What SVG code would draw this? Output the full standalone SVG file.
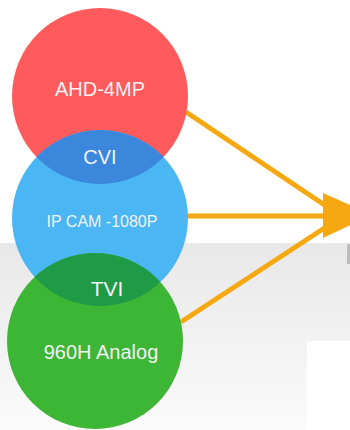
<svg xmlns="http://www.w3.org/2000/svg" width="350" height="430" viewBox="0 0 350 430">
  <defs>
    <linearGradient id="bg" x1="0" y1="0" x2="0" y2="1">
      <stop offset="0" stop-color="#e8e8e8"/>
      <stop offset="1" stop-color="#fbfbfb"/>
    </linearGradient>
    <clipPath id="clipRed"><circle cx="100" cy="96" r="88"/></clipPath>
    <clipPath id="clipBlue"><circle cx="100" cy="218" r="88"/></clipPath>
    <style>
      .lbl { font-family: "Liberation Sans", Arial, sans-serif; fill: #f2f2f2; text-anchor: middle; }
      .conn { stroke: #f6a810; stroke-width: 5; fill: none; }
    </style>
  </defs>

  <rect x="0" y="0" width="350" height="430" fill="#ffffff"/>
  <rect x="0" y="243" width="350" height="187" fill="url(#bg)"/>
  <rect x="307" y="341" width="43" height="89" fill="#ffffff"/>
  <rect x="347" y="244" width="3" height="20" fill="#bdbdbd"/>

  <g id="connectors">
    <line class="conn" x1="186" y1="112" x2="326" y2="206"/>
    <line class="conn" x1="187" y1="216" x2="326" y2="216"/>
    <line class="conn" x1="181" y1="322" x2="326" y2="227"/>
    <polygon points="323,193 372,215 323,238" fill="#f6a810"/>
  </g>

  <g id="node-ahd">
    <circle cx="100" cy="96" r="88" fill="#ff5a5c"/>
    <text class="lbl" x="100" y="96" font-size="20">AHD-4MP</text>
  </g>

  <g id="node-ipcam">
    <circle cx="100" cy="218" r="88" fill="#4ab7f4"/>
    <text class="lbl" x="102" y="227" font-size="16">IP CAM -1080P</text>
  </g>

  <g id="node-analog">
    <circle cx="95" cy="341" r="88" fill="#3db535"/>
    <text class="lbl" x="101" y="359" font-size="20">960H Analog</text>
  </g>

  <g id="node-cvi">
    <circle cx="100" cy="218" r="88" fill="#3b87dc" clip-path="url(#clipRed)"/>
    <text class="lbl" x="100" y="164" font-size="20">CVI</text>
  </g>

  <g id="node-tvi">
    <circle cx="95" cy="341" r="88" fill="#1f9a46" clip-path="url(#clipBlue)"/>
    <text class="lbl" x="107" y="296" font-size="21">TVI</text>
  </g>
</svg>
